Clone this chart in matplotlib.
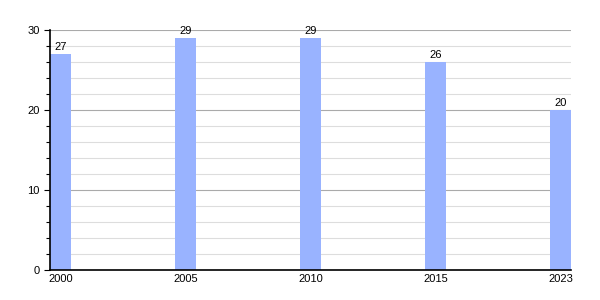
import numpy as np
import matplotlib.pyplot as plt
from matplotlib.ticker import MultipleLocator

years = ['2000', '2005', '2010', '2015', '2023']
values = [27, 29, 29, 26, 20]

plt.rcParams['font.family'] = ['Liberation Sans', 'DejaVu Sans']

fig = plt.figure(figsize=(6, 3), dpi=100)
ax = fig.add_axes([0.0833, 0.1, 0.8687, 0.8])

w = 0.168
x = np.arange(len(years))
ax.bar(x, values, width=w, align='edge', color='#99b3ff', zorder=2)

for xi, v in zip(x, values):
    ax.text(xi + w / 2, v + 0.3, str(v), ha='center', va='bottom', fontsize=8)

ax.set_xlim(0, len(years) - 1 + w)
ax.set_ylim(0, 30)
ax.set_xticks(x + w / 2)
ax.set_xticklabels(years, fontsize=8)
ax.tick_params(axis='x', length=0, pad=3)

ax.yaxis.set_major_locator(MultipleLocator(10))
ax.yaxis.set_minor_locator(MultipleLocator(2))
ax.tick_params(axis='y', which='major', length=4, labelsize=8, width=0.8)
ax.tick_params(axis='y', which='minor', length=3, width=0.8)

ax.grid(axis='y', which='major', color='#aaaaaa', linewidth=0.8, zorder=0)
ax.grid(axis='y', which='minor', color='#dddddd', linewidth=0.8, zorder=0)
ax.set_axisbelow(True)

for s in ['top', 'right']:
    ax.spines[s].set_visible(False)
ax.spines['left'].set_linewidth(1.2)
ax.spines['bottom'].set_linewidth(1.2)

fig.savefig('out.png', dpi=100)
